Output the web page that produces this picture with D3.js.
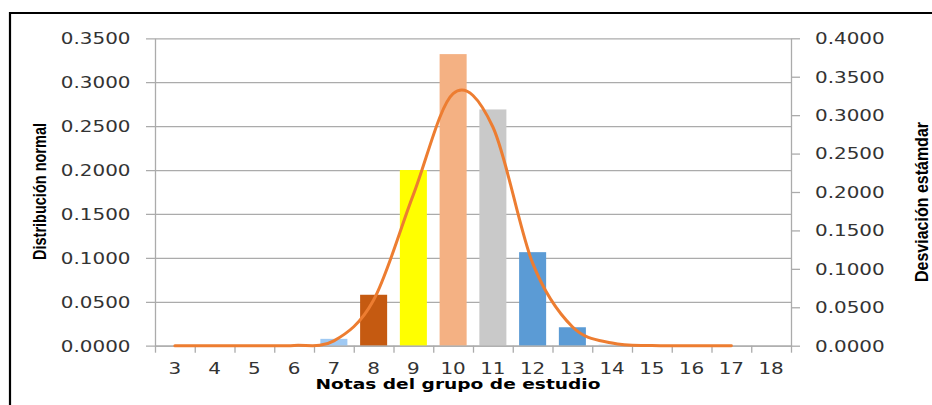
<!DOCTYPE html>
<html>
<head>
<meta charset="utf-8">
<script src="https://cdn.jsdelivr.net/npm/d3@7"></script>
<style>
  html, body { margin: 0; padding: 0; background: #ffffff; }
  svg { display: block; }
</style>
</head>
<body>
<svg id="chart" width="932" height="405"></svg>
<script>
// Grades of the study group and their relative frequencies
const notas = [3, 4, 5, 6, 7, 8, 9, 10, 11, 12, 13, 14, 15, 16, 17, 18];
const frecuencia = [0, 0, 0, 0, 0.0078, 0.058, 0.2, 0.332, 0.269, 0.1065, 0.021, 0.0012, 0, 0, 0, 0];
const colores = ["#9fc9f3", "#9fc9f3", "#9fc9f3", "#9fc9f3", "#9fc9f3", "#c55a11", "#ffff00", "#f4b183",
                 "#c9c9c9", "#5b9bd5", "#5b9bd5", "#bdd7ee", "#9fc9f3", "#9fc9f3", "#9fc9f3", "#9fc9f3"];
// Normal curve, grades 3..17
const curvaNotas = [3, 4, 5, 6, 7, 8, 9, 10, 11, 12, 13, 14, 15, 16, 17];
const curvaValores = [0, 0, 0, 0.0003, 0.0055, 0.052, 0.172, 0.287, 0.249, 0.094, 0.0215, 0.003, 0.0002, 0, 0];
// Axis ticks
const ticksIzq = [0, 0.05, 0.1, 0.15, 0.2, 0.25, 0.3, 0.35];
const ticksDer = [0, 0.05, 0.1, 0.15, 0.2, 0.25, 0.3, 0.35, 0.4];

const svg = d3.select("#chart");
const plot = { left: 155, right: 791, top: 38.3, bottom: 345.7 };

const x = d3.scaleBand().domain(notas).range([plot.left, plot.right])
  .paddingInner(0.32).paddingOuter(0.16);
const xEdges = d3.scaleLinear().domain([0, notas.length]).range([plot.left, plot.right]);
const yL = d3.scaleLinear().domain([0, 0.35]).range([plot.bottom, plot.top]);
const yR = d3.scaleLinear().domain([0, 0.4]).range([plot.bottom, plot.top]);

const fmt = d3.format(".4f");
const gridColor = "#ababab";
const tickFont = "'DejaVu Sans', Verdana, sans-serif";
const stretch = 1.33;

// Frame around the figure
svg.append("path")
  .attr("d", `M10,405 L10,13 L932,13`)
  .attr("fill", "none").attr("stroke", "#000").attr("stroke-width", 2.2);

// Left axis with gridlines
const gL = svg.append("g").attr("transform", `translate(${plot.left},0)`)
  .call(d3.axisLeft(yL).tickValues(ticksIzq).tickFormat(fmt)
    .tickSizeInner(-(plot.right - plot.left)).tickSizeOuter(0).tickPadding(0));
gL.select(".domain").attr("stroke", gridColor).attr("stroke-width", 1.3);
gL.selectAll(".tick line").attr("stroke", gridColor).attr("stroke-width", 1.3)
  .attr("x1", -9);
gL.selectAll(".tick text")
  .attr("x", null).attr("dy", "0.36em")
  .attr("transform", `translate(-24.5,0) scale(${stretch},1)`)
  .attr("font-family", tickFont).attr("font-size", 15).attr("fill", "#333")
  .attr("text-anchor", "end");

// Right axis
const gR = svg.append("g").attr("transform", `translate(${plot.right},0)`)
  .call(d3.axisRight(yR).tickValues(ticksDer).tickFormat(fmt)
    .tickSizeInner(9).tickSizeOuter(0).tickPadding(0));
gR.select(".domain").attr("stroke", gridColor).attr("stroke-width", 1.3);
gR.selectAll(".tick line").attr("stroke", gridColor).attr("stroke-width", 1.3);
gR.selectAll(".tick text")
  .attr("x", null).attr("dy", "0.36em")
  .attr("transform", `translate(24,0) scale(${stretch},1)`)
  .attr("font-family", tickFont).attr("font-size", 15).attr("fill", "#333")
  .attr("text-anchor", "start");

// Bars
svg.append("g").selectAll("rect")
  .data(notas.map((n, i) => ({ n, v: frecuencia[i], c: colores[i] })).filter(d => d.v > 0))
  .join("rect")
  .attr("x", d => x(d.n))
  .attr("width", x.bandwidth())
  .attr("y", d => yL(d.v))
  .attr("height", d => yL(0) - yL(d.v))
  .attr("fill", d => d.c);

// Bottom axis: boundary ticks and category labels
const gB = svg.append("g").attr("transform", `translate(0,${plot.bottom})`)
  .call(d3.axisBottom(xEdges).tickValues(d3.range(notas.length + 1)).tickFormat("")
    .tickSizeInner(7).tickSizeOuter(0));
gB.select(".domain").attr("stroke", gridColor).attr("stroke-width", 1.3);
gB.selectAll(".tick line").attr("stroke", gridColor).attr("stroke-width", 1.3);

const gBL = svg.append("g").attr("transform", `translate(0,${plot.bottom})`)
  .call(d3.axisBottom(x).tickSize(0).tickPadding(0));
gBL.select(".domain").remove();
gBL.selectAll(".tick text")
  .attr("y", null).attr("dy", null)
  .attr("transform", `translate(0,28) scale(${stretch},1)`)
  .attr("font-family", tickFont).attr("font-size", 15).attr("fill", "#333")
  .attr("text-anchor", "middle");

// Normal distribution curve
const line = d3.line()
  .x(d => x(d.n) + x.bandwidth() / 2)
  .y(d => yL(d.v))
  .curve(d3.curveCardinal.tension(0));
svg.append("path")
  .datum(curvaNotas.map((n, i) => ({ n, v: curvaValores[i] })))
  .attr("d", line)
  .attr("fill", "none")
  .attr("stroke", "#ed7d31")
  .attr("stroke-width", 3)
  .attr("stroke-linecap", "round");

// Axis titles
const titleFont = "'Liberation Sans', Arial, sans-serif";
svg.append("text")
  .attr("transform", "translate(45.5,191.5) rotate(-90)")
  .attr("text-anchor", "middle")
  .attr("font-family", titleFont).attr("font-weight", "bold").attr("font-size", 19)
  .attr("textLength", 137).attr("lengthAdjust", "spacingAndGlyphs")
  .text("Distribución normal");

svg.append("text")
  .attr("transform", "translate(927.5,202) rotate(-90)")
  .attr("text-anchor", "middle")
  .attr("font-family", titleFont).attr("font-weight", "bold").attr("font-size", 18)
  .attr("textLength", 160).attr("lengthAdjust", "spacingAndGlyphs")
  .text("Desviación estámdar");

svg.append("text")
  .attr("x", 458).attr("y", 389)
  .attr("text-anchor", "middle")
  .attr("font-family", "'DejaVu Sans', Verdana, sans-serif").attr("font-weight", "bold").attr("font-size", 14.5)
  .attr("textLength", 285).attr("lengthAdjust", "spacingAndGlyphs")
  .text("Notas del grupo de estudio");
</script>
</body>
</html>
